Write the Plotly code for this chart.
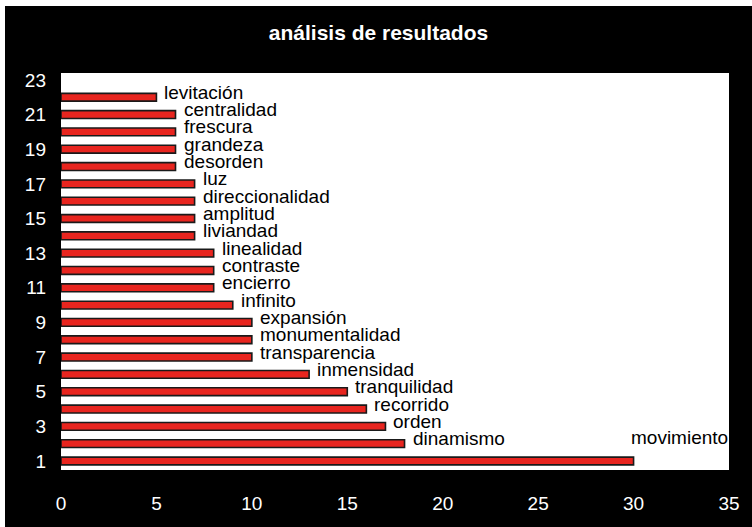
import plotly.graph_objects as go

categories = ["movimiento", "dinamismo", "orden", "recorrido", "tranquilidad",
              "inmensidad", "transparencia", "monumentalidad", "expansión", "infinito",
              "encierro", "contraste", "linealidad", "liviandad", "amplitud",
              "direccionalidad", "luz", "desorden", "grandeza", "frescura",
              "centralidad", "levitación"]
values = [30, 18, 17, 16, 15, 13, 10, 10, 10, 9, 8, 8, 8, 7, 7, 7, 7, 6, 6, 6, 6, 5]
positions = list(range(1, len(categories) + 1))
y_ticks = [1, 3, 5, 7, 9, 11, 13, 15, 17, 19, 21, 23]
x_ticks = [0, 5, 10, 15, 20, 25, 30, 35]

FONT = "Liberation Sans, Arial, sans-serif"

fig = go.Figure(go.Bar(
    x=values, y=positions, orientation="h", width=0.45,
    marker=dict(color="#e8251f", line=dict(color="#1a1a1a", width=1.6)),
    hoverinfo="x+y", showlegend=False,
))

XMAX = 35
for cat, v, p in zip(categories, values, positions):
    if v == max(values):
        fig.add_annotation(x=XMAX, y=p, text=cat, showarrow=False, xanchor="right",
                           yanchor="middle", xshift=1, yshift=23,
                           font=dict(family=FONT, size=19, color="black"))
    else:
        fig.add_annotation(x=v, y=p, text=cat, showarrow=False, xanchor="left",
                           yanchor="middle", xshift=6, yshift=5,
                           font=dict(family=FONT, size=19, color="black"))

W, H = 747, 521
fig.update_layout(
    width=W, height=H,
    margin=dict(l=56, r=20, t=67, b=57),
    paper_bgcolor="black", plot_bgcolor="white",
    title=dict(text="<b>análisis de resultados</b>", x=0.5, xanchor="center",
               y=1 - 27 / H, yanchor="middle",
               font=dict(family=FONT, size=21, color="white")),
    font=dict(family=FONT, color="white"),
    xaxis=dict(range=[0, XMAX], tickvals=x_ticks, showgrid=False, zeroline=False,
               ticks="", tickfont=dict(size=19, color="white"), ticklabelstandoff=20,
               showline=False, fixedrange=True),
    yaxis=dict(range=[0.48, 23.4], tickvals=y_ticks, showgrid=False, zeroline=False,
               ticks="", tickfont=dict(size=19, color="white"), ticklabelstandoff=14,
               showline=False, fixedrange=True),
    bargap=0.5,
)

fig.write_html("out.html",
               post_script="document.body.style.margin='6px 0 0 5px';"
                           "document.body.style.background='white';")
